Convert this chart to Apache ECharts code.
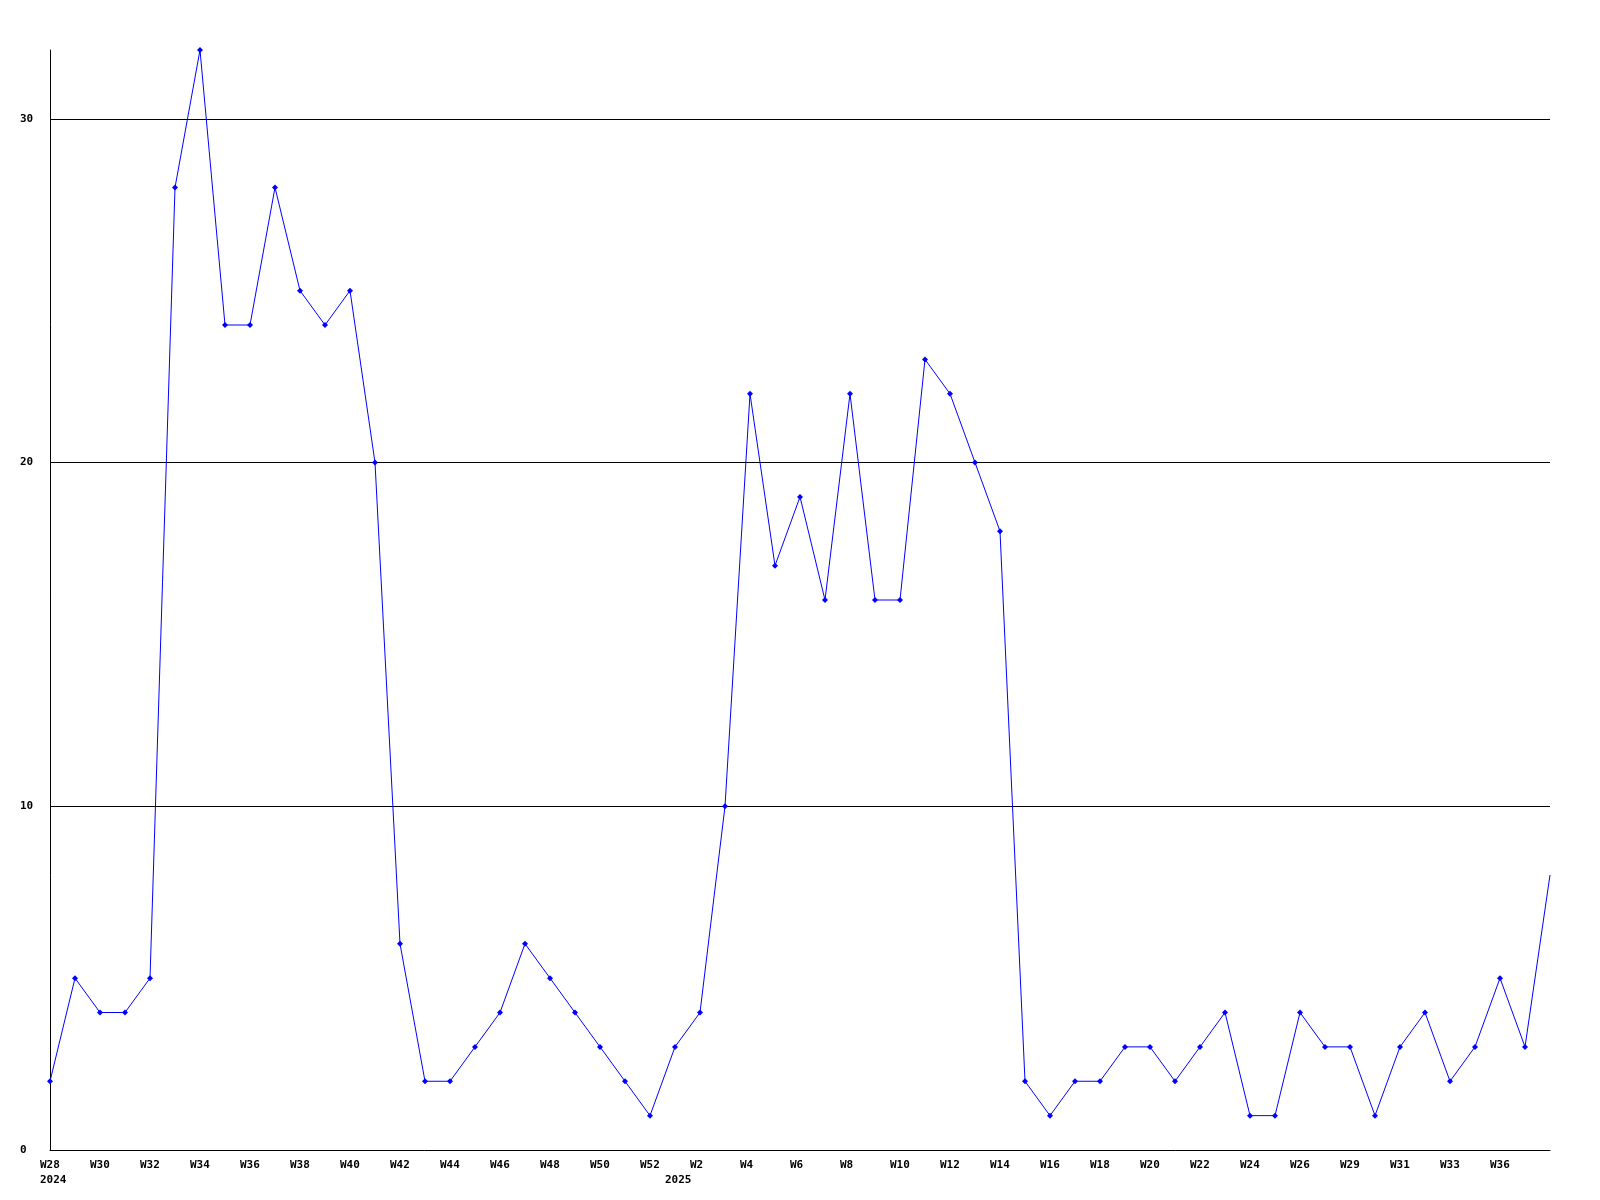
<!DOCTYPE html>
<html>
<head>
<meta charset="utf-8">
<script src="https://cdn.jsdelivr.net/npm/echarts@6/dist/echarts.min.js"></script>
<style>html,body{margin:0;padding:0;background:#fff;}#c{width:1600px;height:1200px;}</style>
</head>
<body>
<div id="c"></div>
<script>
const weeks = ['W28','W29','W30','W31','W32','W33','W34','W35','W36','W37','W38','W39','W40','W41','W42','W43','W44','W45','W46','W47','W48','W49','W50','W51','W52',
  'W1','W2','W3','W4','W5','W6','W7','W8','W9','W10','W11','W12','W13','W14','W15','W16','W17','W18','W19','W20','W21','W22','W23','W24','W25','W26',
  'W28','W29','W30','W31','W32','W33','W35','W36','W37','W38'];
const yearLabels = {0: '2024', 25: '2025'};
const values = [2,5,4,4,5,28,32,24,24,28,25,24,25,20,6,2,2,3,4,6,5,4,3,2,1,
  3,4,10,22,17,19,16,22,16,16,23,22,20,18,2,1,2,2,3,3,2,3,4,1,1,4,
  3,3,1,3,4,2,3,5,3,8];
const yTicks = [0,10,20,30];

const font = 'DejaVu Sans Mono';
const lastIdx = values.length - 1;
const seriesData = values.map((v, i) => i === lastIdx ? {value: v, symbol: 'none'} : v);

const chart = echarts.init(document.getElementById('c'));
chart.setOption({
  animation: false,
  backgroundColor: '#fff',
  grid: {left: 50, right: 50, top: 50, bottom: 50, containLabel: false},
  xAxis: {
    type: 'category',
    data: weeks,
    boundaryGap: false,
    axisLine: {lineStyle: {color: '#000', width: 1}},
    axisTick: {show: false},
    splitLine: {show: false},
    axisLabel: {
      interval: (i) => (i % 2 === 0 && i !== lastIdx) || i === 25,
      margin: 8,
      align: 'center',
      width: 20,
      overflow: 'none',
      lineHeight: 15,
      color: '#000',
      fontFamily: font,
      fontWeight: 'bold',
      fontSize: 11,
      formatter: (v, i) => {
        const top = (i % 2 === 0) ? '{a|' + v + '}' : '{a| }';
        return yearLabels[i] ? top + '\n{a|' + yearLabels[i] + '}' : top;
      },
      rich: {a: {align: 'left', fontFamily: font, fontWeight: 'bold', fontSize: 11, color: '#000', lineHeight: 15}}
    }
  },
  yAxis: {
    type: 'value',
    min: 0,
    max: 32,
    interval: 10,
    axisLine: {show: true, lineStyle: {color: '#000', width: 1}},
    axisTick: {show: false},
    splitLine: {show: false},
    axisLabel: {
      margin: 30,
      align: 'left',
      color: '#000',
      fontFamily: font,
      fontWeight: 'bold',
      fontSize: 11,
      showMaxLabel: false,
      formatter: (v) => yTicks.indexOf(v) >= 0 ? String(v) : ''
    }
  },
  series: [{
    type: 'line',
    data: seriesData,
    symbol: 'diamond',
    symbolSize: 6,
    showSymbol: true,
    lineStyle: {color: '#0000ff', width: 1},
    itemStyle: {color: '#0000ff'},
    z: 3,
    markLine: {
      silent: true,
      symbol: 'none',
      label: {show: false},
      lineStyle: {color: '#000', width: 1, type: 'solid'},
      z: 1,
      data: yTicks.filter(t => t > 0).map(t => ({yAxis: t}))
    }
  }]
});
</script>
</body>
</html>
